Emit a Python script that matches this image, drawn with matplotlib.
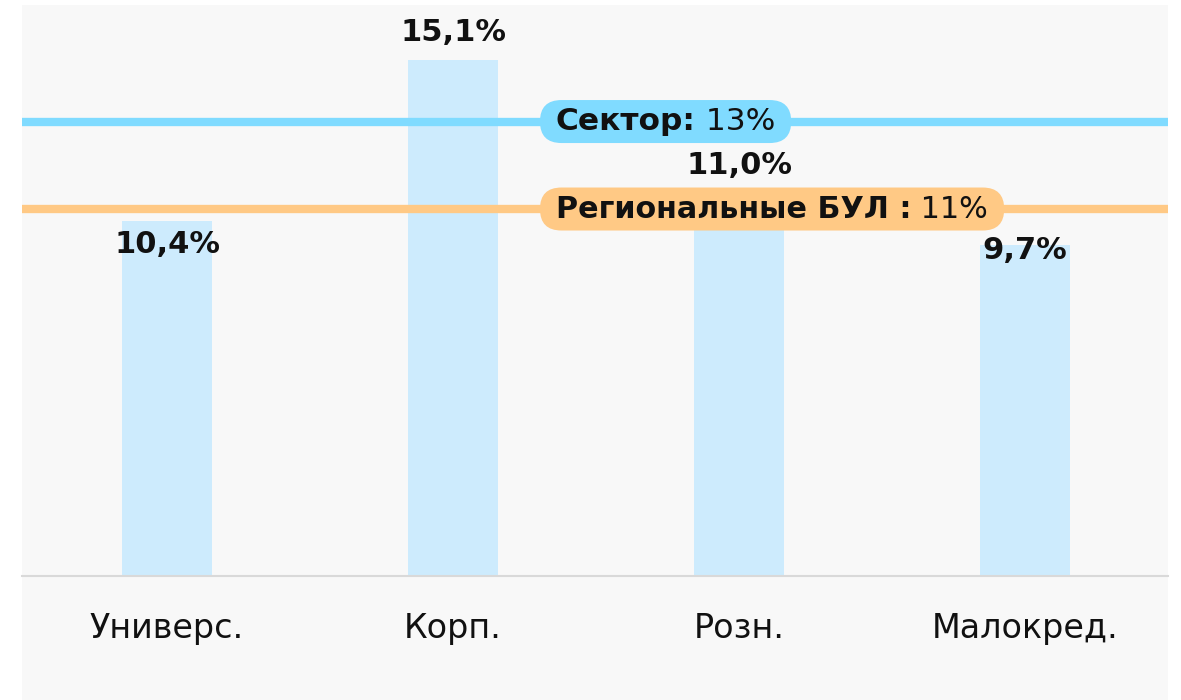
import matplotlib
matplotlib.use("Agg")
import matplotlib.pyplot as plt
from matplotlib.patches import FancyBboxPatch, Rectangle

categories = ["Универс.", "Корп.", "Розн.", "Малокред."]
values = [10.4, 15.1, 11.0, 9.7]
value_labels = ["10,4%", "15,1%", "11,0%", "9,7%"]
sector_value = 13.3
sector_bold = "Сектор:"
sector_text = " 13%"
regional_value = 10.74
regional_bold = "Региональные БУЛ :"
regional_text = " 11%"

# label offsets (pixels) relative to bar top
label_offsets = [-24, 28, 35, -6]

BG = "#F8F8F8"
BAR = "#CDEBFD"
SECTOR = "#80DBFF"
REGIONAL = "#FFC985"
FONT = ["DejaVu Sans"]

W, H = 1181, 700
fig = plt.figure(figsize=(W / 100, H / 100), dpi=100, facecolor="white")
fig.add_artist(Rectangle((22 / W, 0), (1168 - 22) / W, (695) / H,
                         transform=fig.transFigure, facecolor=BG, edgecolor="none", zorder=0))

ax = fig.add_axes([22 / W, (700 - 576) / H, (1168 - 22) / W, (576 - 5) / H])
ax.set_facecolor("none")
x = list(range(len(categories)))
ax.bar(x, values, width=0.315, color=BAR, zorder=2)
ax.set_xlim(-0.507, 3.5)
ax.set_ylim(0, 571 / 34.17)

for s in ["top", "right", "left"]:
    ax.spines[s].set_visible(False)
ax.spines["bottom"].set_color("#D9D9D9")
ax.spines["bottom"].set_linewidth(1.5)
ax.set_yticks([])
ax.set_xticks(x)
ax.set_xticklabels(categories, fontsize=24, family=FONT, color="#111111")
ax.tick_params(axis="x", length=0, pad=26)

ax.axhline(sector_value, color=SECTOR, lw=6, zorder=3, solid_capstyle="butt")
ax.axhline(regional_value, color=REGIONAL, lw=6, zorder=3, solid_capstyle="butt")

for xi, v, lab, off in zip(x, values, value_labels, label_offsets):
    ax.annotate(lab, (xi, v), xytext=(0, off), textcoords="offset pixels",
                ha="center", va="center", fontsize=22, fontweight="bold",
                family=FONT, color="#111111", zorder=5)

fig.canvas.draw()
renderer = fig.canvas.get_renderer()

def pill(xdata, yval, bold, normal, color, size):
    t1 = ax.text(xdata, yval, bold, ha="left", va="center", fontsize=size,
                 fontweight="bold", family=FONT, color="#111111", zorder=7)
    fig.canvas.draw()
    bb1 = t1.get_window_extent(renderer)
    xd, _ = ax.transData.inverted().transform((bb1.x1, 0))
    t2 = ax.text(xd, yval, normal, ha="left", va="center", fontsize=size,
                 family=FONT, color="#111111", zorder=7)
    fig.canvas.draw()
    bb2 = t2.get_window_extent(renderer)
    _, yc = ax.transData.transform((0, yval))
    hh = 21.5
    x0, x1 = bb1.x0 - 16, bb2.x1 + 16
    r = hh
    p = FancyBboxPatch((x0 + r, yc - hh + r), (x1 - x0) - 2 * r, 2 * hh - 2 * r,
                       boxstyle=f"round,pad={r},rounding_size={r}",
                       transform=None, facecolor=color, edgecolor="none", zorder=6)
    ax.add_artist(p)

pill(1.36, sector_value, sector_bold, sector_text, SECTOR, 22.5)
pill(1.36, regional_value, regional_bold, regional_text, REGIONAL, 21.8)

fig.savefig("out.png", dpi=100, facecolor="white")
